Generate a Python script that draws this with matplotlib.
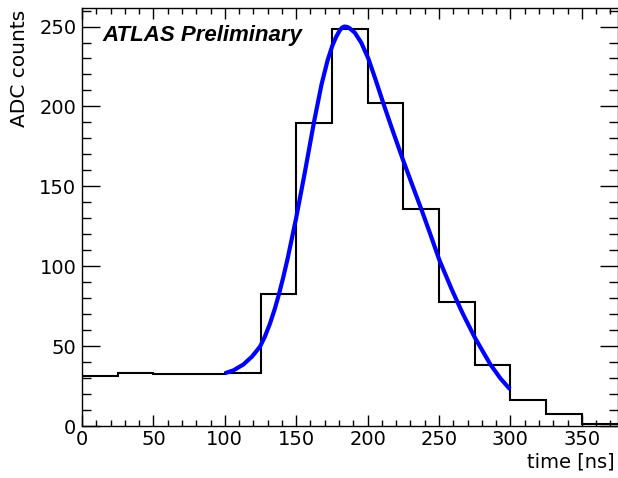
import matplotlib
matplotlib.use("Agg")
import matplotlib.pyplot as plt
from matplotlib.ticker import MultipleLocator

# Histogram (ADC counts per 25 ns bin)
bin_edges = [0, 25, 50, 75, 100, 125, 150, 175, 200, 225, 250, 275, 300, 325, 350, 375]
adc_counts = [31.5, 33.3, 32.3, 32.3, 33.3, 82.6, 189.5, 248.5, 202.0, 136.0, 77.6, 38.4, 16.2, 7.4, 1.2]

# Fit curve
fit_time = [100, 106, 113, 119, 124.6, 128, 131.6, 135, 138, 141, 144, 150, 156, 162.5,
            167.8, 172, 175.3, 178, 180.5, 182, 183.7, 185.5, 187, 191, 195.5, 200.5,
            205.5, 211, 217.5, 224.6, 231, 237.9, 244, 250.2, 258.9, 266.5, 275, 286,
            293, 299.7]
fit_adc = [33, 34.8, 38.5, 43.4, 49.6, 55.8, 64.0, 73.3, 82.7, 93.3, 104.8, 130.3, 158.5, 190.4,
           214, 228.9, 238, 243.6, 247.6, 249.2, 250, 249.8, 249.2, 246.2, 240, 230,
           217, 202, 185, 167, 151.5, 135, 119.8, 104, 85.5, 70.6, 55.5, 38.5,
           29.8, 23.0]

x_label = "time [ns]"
y_label = "ADC counts"
title_text = "ATLAS Preliminary"

W, H = 618, 478
fig = plt.figure(figsize=(W / 100, H / 100), dpi=100)
ax = fig.add_axes([82 / W, 52 / H, 535.5 / W, 418 / H])

ax.stairs(adc_counts, bin_edges, color="black", linewidth=1.5, baseline=None)
ax.plot(fit_time, fit_adc, color=(0, 0, 1), linewidth=3, solid_capstyle="butt",
        solid_joinstyle="round")

ax.set_xlim(0, 375)
ax.set_ylim(0, 261.6)

ax.xaxis.set_major_locator(MultipleLocator(50))
ax.xaxis.set_minor_locator(MultipleLocator(10))
ax.yaxis.set_major_locator(MultipleLocator(50))
ax.yaxis.set_minor_locator(MultipleLocator(10))

ax.tick_params(axis="both", which="both", direction="in", top=True, right=True,
               labelsize=14, width=1.0, colors="black")
ax.tick_params(axis="x", which="major", length=8, pad=3)
ax.tick_params(axis="x", which="minor", length=4)
ax.tick_params(axis="y", which="major", length=13, pad=4)
ax.tick_params(axis="y", which="minor", length=6.5)

for lab in ax.get_xticklabels() + ax.get_yticklabels():
    lab.set_family("DejaVu Sans")

for sp in ax.spines.values():
    sp.set_linewidth(1.0)

fig.text(615 / W, 1 - 462 / H, x_label, ha="right", va="center", fontsize=14,
         family="DejaVu Sans")
fig.text(20 / W, 1 - 10 / H, y_label, ha="center", va="top", rotation=90, fontsize=14.5,
         family="DejaVu Sans")

ax.text(0.039, 0.921, title_text, transform=ax.transAxes, ha="left", va="baseline",
        fontsize=16, fontweight="bold", fontstyle="italic", family="Liberation Sans")

fig.savefig("out.png", dpi=100)
